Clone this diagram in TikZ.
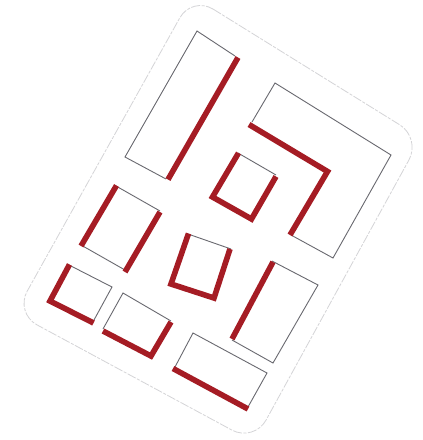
\documentclass[tikz,border=0pt]{standalone}
\definecolor{rd}{RGB}{165,28,36}
\definecolor{thn}{RGB}{105,105,112}
\definecolor{edg}{RGB}{212,212,215}
\tikzset{
  thinedge/.style={draw=thn,line width=0.9pt,line join=miter},
  redwall/.style={draw=rd,line width=5.6pt,line join=miter},
  outline/.style={draw=edg,line width=0.8pt,dash pattern=on 9pt off 1.5pt on 3pt off 1.5pt,rounded corners=25pt}
}
\begin{document}
\begin{tikzpicture}[x=1pt,y=-1pt]
\useasboundingbox (0,0) rectangle (423,440);
\fill[white] (0,0) rectangle (423,440);
\draw[outline] (192,-4) -- (421,138) -- (254,442) -- (15,313) -- cycle;
% tall rectangle, upper left
\draw[thinedge] (235,56) -- (197,31) -- (125,157) -- (166,179);
\draw[redwall] (238,57.5) -- (168,179.5);
% large L-shaped block
\draw[thinedge] (252,122) -- (275,83) -- (391,155) -- (333,258) -- (291,235);
\draw[redwall] (249,124.5) -- (327.5,171.5) -- (290,235);
% centre square
\draw[thinedge] (238,153) -- (276,175);
\draw[redwall] (238.5,153) -- (212.5,197) -- (251.5,219) -- (276,176.5);
% left block
\draw[thinedge] (116,186) -- (160,211);
\draw[thinedge] (81,245) -- (125,270);
\draw[redwall] (116.5,185.5) -- (81,246);
\draw[redwall] (160,212) -- (125,272);
% centre small block
\draw[thinedge] (188,234) -- (231,249);
\draw[redwall] (188.5,233.5) -- (171,284) -- (214,298) -- (230,249);
% lower-left block
\draw[thinedge] (69,265) -- (112,287) -- (94,320);
\draw[redwall] (69.5,264.5) -- (50,301) -- (93.5,323);
% lower block
\draw[thinedge] (103,329) -- (123,293) -- (171,321);
\draw[redwall] (103,331) -- (151,356) -- (171,322);
% right block
\draw[thinedge] (272,261) -- (318,285) -- (273,363) -- (232,340);
\draw[redwall] (273,262) -- (232,339);
% bottom block
\draw[thinedge] (175,367) -- (193,333) -- (267,373) -- (248,407);
\draw[redwall] (173,368.5) -- (248,409);
\end{tikzpicture}
\end{document}
